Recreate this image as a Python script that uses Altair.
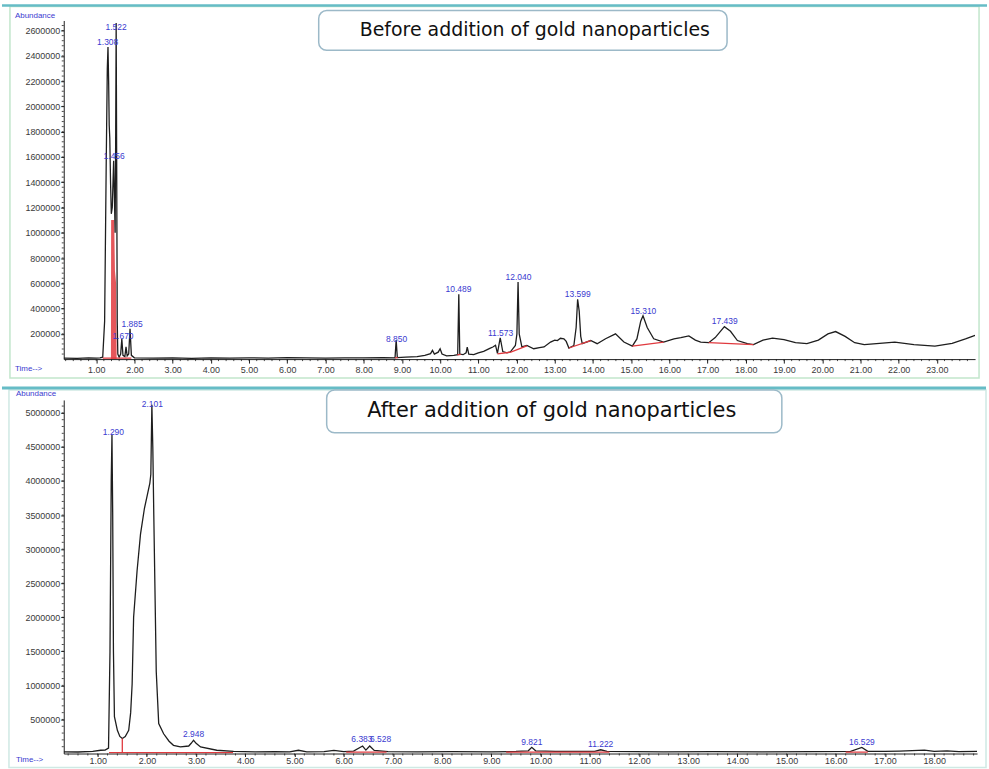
import altair as alt
import pandas as pd

# ---------------- data ----------------
# Before addition: total ion chromatogram (time in min, abundance)
top_t = [0.15, 0.5, 0.8, 1.0, 1.10, 1.17, 1.22, 1.26, 1.29, 1.308, 1.325, 1.34, 1.355, 1.375,
         1.395, 1.42, 1.456, 1.475, 1.495, 1.510, 1.522, 1.535, 1.550, 1.565, 1.60, 1.64,
         1.670, 1.70, 1.75, 1.78, 1.81, 1.85, 1.885, 1.92, 2.0, 2.5, 3.0, 3.5, 4.0, 4.5, 5.0,
         5.5, 6.0, 6.5, 7.0, 7.5, 8.0, 8.5, 8.82, 8.85, 8.88, 9.1, 9.4, 9.6, 9.75, 9.8, 9.85,
         9.95, 10.0, 10.05, 10.17, 10.36, 10.46, 10.489, 10.515, 10.6, 10.68, 10.71, 10.75,
         10.88, 11.0, 11.14, 11.3, 11.38, 11.45, 11.5, 11.573, 11.64, 11.75, 11.84, 11.97,
         12.01, 12.04, 12.07, 12.14, 12.27, 12.45, 12.6, 12.72, 12.89, 13.0, 13.07, 13.15,
         13.24, 13.30, 13.37, 13.5, 13.56, 13.599, 13.64, 13.68, 13.72, 13.94, 14.11, 14.33,
         14.59, 14.81, 15.03, 15.15, 15.25, 15.31, 15.42, 15.59, 15.85, 16.12, 16.3, 16.51,
         16.68, 16.82, 17.03, 17.2, 17.44, 17.6, 17.78, 18.04, 18.2, 18.45, 18.7, 19.0, 19.3,
         19.6, 19.9, 20.15, 20.35, 20.6, 20.85, 21.1, 21.5, 21.9, 22.4, 22.95, 23.4, 23.75,
         24.0]
top_v = [8000, 6000, 9000, 7000, 9000, 15000, 300000, 1500000, 2300000, 2470000, 2200000,
         1850000, 1750000, 1400000, 1150000, 1200000, 1570000, 1300000, 1000000, 1800000,
         2660000, 1600000, 300000, 40000, 15000, 40000, 160000, 30000, 20000, 98000, 25000,
         40000, 240000, 30000, 10000, 8000, 10000, 6000, 9000, 7000, 10000, 8000, 11000, 9000,
         8000, 10000, 9000, 12000, 10000, 150000, 12000, 15000, 20000, 30000, 43000, 69000,
         40000, 55000, 82000, 40000, 25000, 30000, 35000, 513000, 40000, 35000, 50000, 95000,
         40000, 35000, 50000, 61000, 85000, 96000, 110000, 45000, 169000, 60000, 50000, 58000,
         108000, 200000, 610000, 200000, 96000, 108000, 82000, 90000, 96000, 135000, 150000,
         147000, 165000, 161000, 140000, 88000, 108000, 250000, 474000, 380000, 180000, 122000,
         147000, 122000, 161000, 200000, 135000, 103000, 160000, 300000, 343000, 250000,
         161000, 135000, 161000, 170000, 184000, 150000, 135000, 130000, 170000, 257000,
         220000, 147000, 122000, 114000, 150000, 166000, 155000, 130000, 122000, 150000,
         200000, 218000, 180000, 130000, 114000, 125000, 135000, 115000, 103000, 125000,
         160000, 187000]

# integration baselines (red) - before
top_red_g = [1, 1, 2, 2, 3, 3, 4, 4, 4, 5, 5, 6, 6, 7, 7]
top_red_t = [1.17, 1.92, 8.82, 8.89, 10.45, 10.54, 11.50, 11.85, 12.27, 13.37, 13.94,
             15.03, 15.85, 17.03, 18.20]
top_red_v = [8000, 8000, 9000, 11000, 33000, 38000, 42000, 55000, 105000, 88000, 147000,
             103000, 135000, 130000, 114000]
# red integrated fill under the 1.456 peak
top_fill_t = [1.385, 1.39, 1.47, 1.49, 1.52, 1.535]
top_fill_v = [0, 1100000, 1100000, 700000, 600000, 0]

top_lab_txt = ["1.308", "1.522", "1.456", "1.670", "1.885", "8.850", "10.489", "11.573",
               "12.040", "13.599", "15.310", "17.439"]
top_lab_t = [1.30, 1.52, 1.47, 1.70, 1.94, 8.86, 10.48, 11.58, 12.05, 13.60, 15.32, 17.45]
top_lab_v = [2510000, 2631000, 1610000, 184000, 278000, 161000, 553000, 208000, 647000,
             514000, 382000, 299000]

# After addition
bot_t = [0.31, 0.6, 0.9, 1.06, 1.15, 1.22, 1.25, 1.275, 1.29, 1.305, 1.32, 1.34, 1.40,
         1.45, 1.50, 1.56, 1.63, 1.67, 1.70, 1.73, 1.80, 1.87, 1.95, 2.01, 2.06, 2.08, 2.101,
         2.12, 2.14, 2.19, 2.24, 2.34, 2.45, 2.54, 2.68, 2.85, 2.90, 2.948, 3.0, 3.09, 3.42,
         3.76, 4.2, 4.6, 4.9, 5.08, 5.25, 5.6, 5.8, 6.0, 6.2, 6.383, 6.45, 6.528, 6.62, 6.9,
         7.5, 8.2, 9.0, 9.5, 9.75, 9.821, 9.9, 10.3, 11.1, 11.222, 11.35, 12.5, 13.5, 14.5,
         15.5, 16.3, 16.529, 16.65, 17.0, 17.3, 17.8, 18.0, 18.26, 18.5, 18.87]
bot_v = [25000, 22000, 30000, 48000, 50000, 80000, 1500000, 4000000, 4680000, 3500000,
         1500000, 540000, 340000, 250000, 220000, 250000, 340000, 600000, 1020000, 2000000,
         2680000, 3220000, 3600000, 3800000, 3970000, 4100000, 5120000, 4500000, 3500000,
         1200000, 440000, 290000, 180000, 120000, 97000, 110000, 150000, 195000, 150000,
         97000, 48000, 30000, 25000, 28000, 25000, 48000, 25000, 28000, 45000, 28000, 35000,
         110000, 50000, 110000, 45000, 28000, 25000, 28000, 25000, 30000, 40000, 90000, 40000,
         30000, 32000, 55000, 30000, 25000, 28000, 25000, 28000, 30000, 90000, 32000, 30000,
         35000, 50000, 30000, 40000, 28000, 30000]

bot_red_g = [1, 1, 2, 2, 3, 3, 4, 4, 5, 5]
bot_red_t = [1.23, 3.75, 1.50, 1.50, 6.05, 6.87, 9.30, 11.40, 16.20, 16.65]
bot_red_v = [12000, 12000, 12000, 220000, 20000, 20000, 20000, 20000, 20000, 20000]

bot_lab_txt = ["1.290", "2.101", "2.948", "6.383", "6.528", "9.821", "11.222", "16.529"]
bot_lab_t = [1.32, 2.11, 2.95, 6.37, 6.75, 9.821, 11.222, 16.529]
bot_lab_v = [4720000, 5130000, 292000, 210000, 210000, 175000, 135000, 175000]

top_xticks = list(range(1, 24))
top_yticks = [200000 * k for k in range(1, 14)]
bot_xticks = list(range(1, 19))
bot_yticks = [500000 * k for k in range(1, 11)]

# minor tick positions of the instrument axes (every 0.2 min / every fifth of a major step)
top_xminor = [round(0.2 * k, 2) for k in range(1, 120) if 0.15 < 0.2 * k < 24.0]
bot_xminor = [round(0.2 * k, 2) for k in range(2, 95) if 0.31 < 0.2 * k < 18.87]
top_yminor = [40000 * k for k in range(1, 67)]
bot_yminor = [100000 * k for k in range(1, 52)]

# ---------------- style ----------------
BLACK = "#1e1e1e"
RED = "#e0393e"
BLUE = "#3a3ad0"
TICKC = "#3a3a3a"
FONT = "Liberation Sans"
ONE = pd.DataFrame({"k": [0]})


def panel(tr_t, tr_v, rg, rt, rv, lt_txt, lt_t, lt_v, xdom, ydom, xticks, yticks,
          xminor, yminor, width, height, geo, title, title_size, xtick_size, xlab_pad,
          fill=None):
    xscale = alt.Scale(domain=xdom, nice=False, zero=False)
    yscale = alt.Scale(domain=ydom, nice=False)
    X = alt.X("t:Q", scale=xscale,
              axis=alt.Axis(values=xticks, format=".2f", title=None, grid=False,
                            tickSize=xtick_size, tickColor=BLACK, domainColor=BLACK,
                            labelFontSize=9, labelColor=TICKC, labelFont=FONT,
                            labelPadding=xlab_pad, labelFlush=False))
    Y = alt.Y("v:Q", scale=yscale,
              axis=alt.Axis(values=yticks, format="d", title=None, grid=False,
                            tickSize=3, tickColor=BLACK, domainColor=BLACK,
                            labelFontSize=9, labelColor=TICKC, labelFont=FONT,
                            labelPadding=1))

    layers = []
    # panel frame and separating band
    layers.append(alt.Chart(ONE).mark_rect(fill="white", fillOpacity=0,
                                           stroke=geo["frame_color"], strokeWidth=1.5)
                  .encode(x=alt.value(geo["fx1"]), x2=alt.value(geo["fx2"]),
                          y=alt.value(geo["fy1"]), y2=alt.value(geo["fy2"])))
    layers.append(alt.Chart(ONE).mark_rule(color="#66bcc6", strokeWidth=geo["band_w"])
                  .encode(x=alt.value(geo["bx1"]), x2=alt.value(geo["bx2"]),
                          y=alt.value(geo["by"])))
    # minor ticks (same scales/axes as the data layers)
    mx = pd.DataFrame({"t": xminor})
    layers.append(alt.Chart(mx).mark_rule(color=BLACK, strokeWidth=0.8)
                  .encode(x=X, y=alt.value(height), y2=alt.value(height + 2)))
    my = pd.DataFrame({"v": yminor})
    layers.append(alt.Chart(my).mark_rule(color=BLACK, strokeWidth=0.8)
                  .encode(y=Y, x=alt.value(-2), x2=alt.value(0)))
    if fill is not None:
        fdf = pd.DataFrame({"t": fill[0], "v": fill[1]})
        layers.append(alt.Chart(fdf).mark_area(color=RED, opacity=0.85)
                      .encode(x=X, y=Y))
    df = pd.DataFrame({"t": tr_t, "v": tr_v})
    layers.append(alt.Chart(df).mark_line(color=BLACK, strokeWidth=1.3, clip=True)
                  .encode(x=X, y=Y))
    rdf = pd.DataFrame({"g": rg, "t": rt, "v": rv, "o": list(range(len(rg)))})
    layers.append(alt.Chart(rdf).mark_line(color=RED, strokeWidth=1.3, clip=True)
                  .encode(x=X, y=Y, detail="g:N", order="o:Q"))
    ldf = pd.DataFrame({"txt": lt_txt, "t": lt_t, "v": lt_v})
    layers.append(alt.Chart(ldf).mark_text(color=BLUE, fontSize=8.5, font=FONT,
                                           baseline="middle")
                  .encode(x=X, y=Y, text="txt:N"))
    # axis captions
    layers.append(alt.Chart(ONE).mark_text(color=BLUE, fontSize=8, font=FONT,
                                           align="left", baseline="middle")
                  .encode(x=alt.value(geo["cap_x"]), y=alt.value(geo["ab_y"]),
                          text=alt.value("Abundance")))
    layers.append(alt.Chart(ONE).mark_text(color=BLUE, fontSize=8, font=FONT,
                                           align="left", baseline="middle")
                  .encode(x=alt.value(geo["cap_x"]), y=alt.value(geo["time_y"]),
                          text=alt.value("Time-->")))
    # title box
    layers.append(alt.Chart(ONE).mark_rect(fill="white", stroke="#9cb9c8",
                                           strokeWidth=1.5, cornerRadius=8)
                  .encode(x=alt.value(geo["tx1"]), x2=alt.value(geo["tx2"]),
                          y=alt.value(geo["ty1"]), y2=alt.value(geo["ty2"])))
    layers.append(alt.Chart(ONE).mark_text(color="#111111", fontSize=title_size,
                                           font="DejaVu Sans", baseline="middle",
                                           align="center")
                  .encode(x=alt.value(geo["tcx"]), y=alt.value(geo["tcy"]),
                          text=alt.value(title)))
    return alt.layer(*layers).properties(width=width, height=height)


top_geo = dict(frame_color="#c2e6cc", fx1=-54, fx2=919, fy1=-14, fy2=359,
               band_w=2.5, bx1=-62, bx2=927, by=-15,
               cap_x=-49, ab_y=-4.3, time_y=350,
               tx1=256, tx2=666, ty1=-10, ty2=30, tcx=473, tcy=10)
bot_geo = dict(frame_color="#cfe9e4", fx1=-55, fx2=926, fy1=-10, fy2=369,
               band_w=3, bx1=-62, bx2=926, by=-12,
               cap_x=-48, ab_y=-6, time_y=362,
               tx1=264, tx2=721, ty1=-10, ty2=33, tcx=490, tcy=11)

top = panel(top_t, top_v, top_red_g, top_red_t, top_red_v, top_lab_txt, top_lab_t,
            top_lab_v, [0.15, 24.0], [0, 2680000], top_xticks, top_yticks,
            top_xminor, top_yminor, 915, 340,
            top_geo, "Before addition of gold nanoparticles", 19, 4, 2,
            fill=(top_fill_t, top_fill_v))
bot = panel(bot_t, bot_v, bot_red_g, bot_red_t, bot_red_v, bot_lab_txt, bot_lab_t,
            bot_lab_v, [0.31, 18.87], [0, 5190000], bot_xticks, bot_yticks,
            bot_xminor, bot_yminor, 917, 355,
            bot_geo, "After addition of gold nanoparticles", 21, 3, 0)

chart = alt.vconcat(top, bot, spacing=6).properties(
    padding={"left": 0, "top": 2, "right": 0, "bottom": 0},
    background="white",
).configure_view(stroke="transparent")

chart.save("out.html", embed_options={"renderer": "svg", "actions": False})
